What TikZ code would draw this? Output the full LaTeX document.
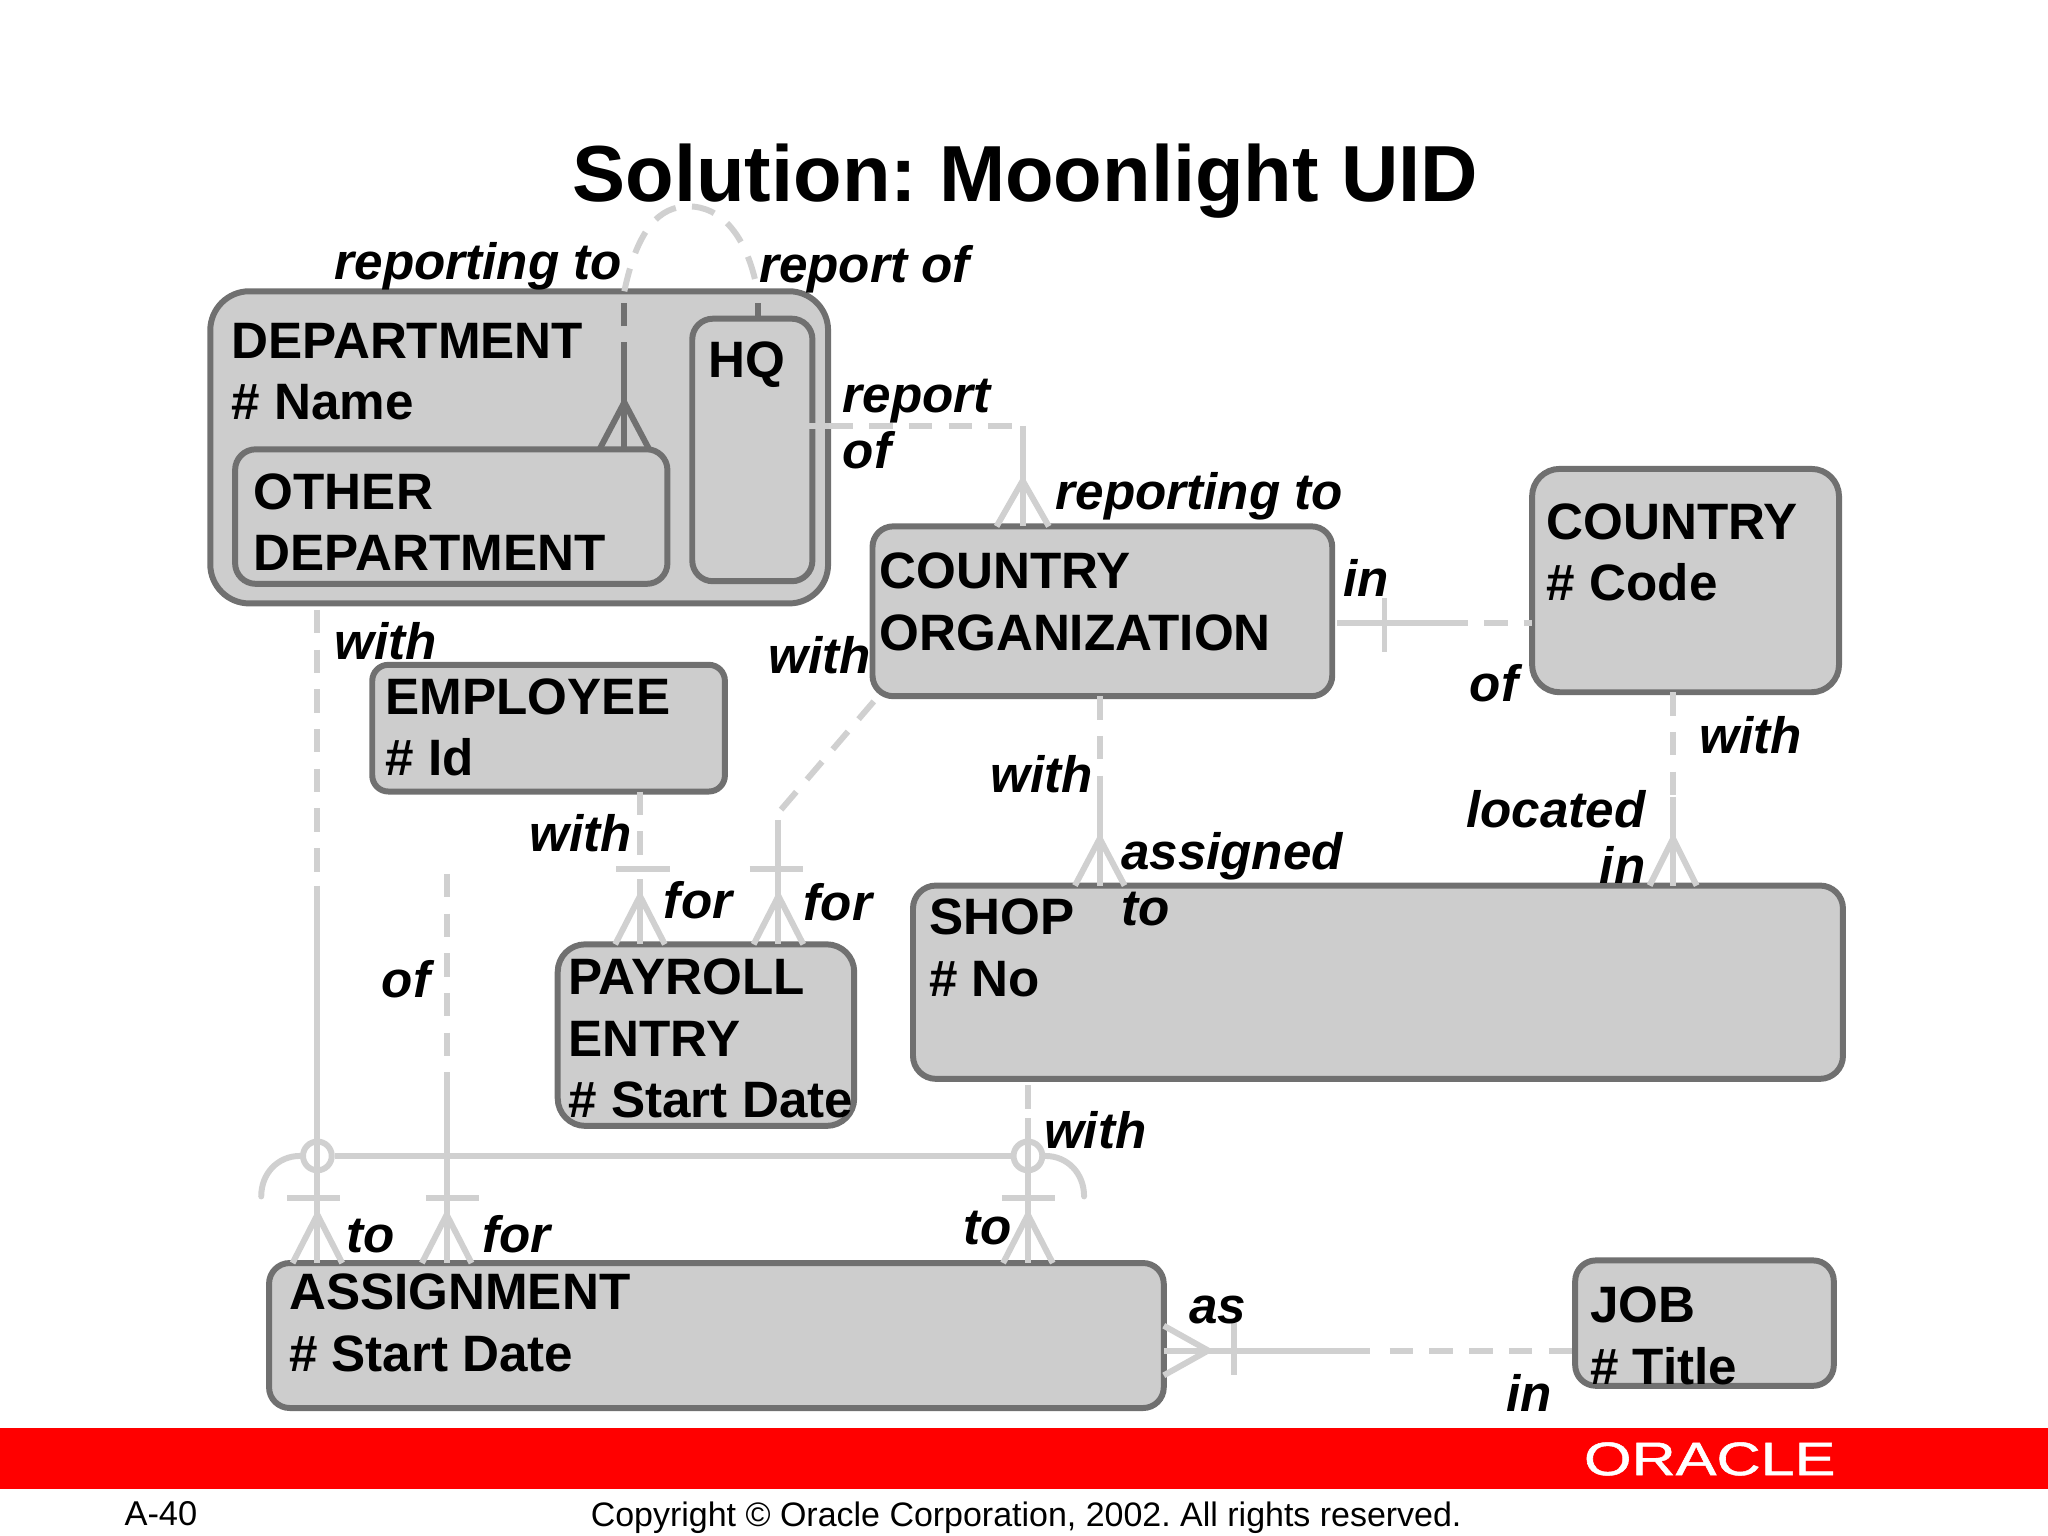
\documentclass[tikz,border=0pt]{standalone}
\usepackage{fontspec}
\setmainfont{Liberation Sans}
\usetikzlibrary{calc}
\definecolor{boxfill}{HTML}{CDCDCD}
\definecolor{boxline}{HTML}{707070}
\definecolor{relline}{HTML}{D0D0D0}
\frenchspacing
\tikzset{
  boxsize/.style 2 args={minimum width=#1*0.02cm,minimum height=#2*0.02cm},
  entbox/.style={draw=boxline,fill=boxfill,line width=2.6pt,anchor=north west,inner sep=0pt,outer sep=0pt,rounded corners=#1},
  entbox/.default=9pt,
  enttext/.style={anchor=north west,inner sep=0pt,align=left,font=\fontsize{22.3}{26.8}\selectfont\bfseries},
  rolelabel/.style={anchor=base west,inner sep=0pt,align=left,font=\fontsize{22.3}{24.4}\selectfont\bfseries\itshape},
  rel/.style={draw=relline,line width=2.6pt},
  optrel/.style={rel,dash pattern=on 10.2pt off 7.1pt},
  inrel/.style={draw=boxline,line width=2.6pt},
  ring/.style={circle,draw=relline,line width=2.6pt,minimum size=22*0.02cm,inner sep=0pt}
}
\begin{document}
\begin{tikzpicture}[x=0.02cm,y=-0.02cm]
\useasboundingbox (0,0) rectangle (1568,1176);
%BAND
\fill[red] (0,1093) rectangle (1568,1140);
\node[white,inner sep=0pt,font=\fontsize{20.5}{20.5}\selectfont\addfontfeatures{FakeBold=1},xscale=1.3] (logo) at (1309,1117) {ORACLE};
%TITLE
\node[anchor=base west,inner sep=0pt,font=\fontsize{34.65}{36}\selectfont\bfseries] (title) at (438,154) {Solution: Moonlight UID};
\node[anchor=base west,inner sep=0pt,font=\fontsize{15}{18}\selectfont] (page) at (95,1168) {A-40};
\node[anchor=base west,inner sep=0pt,font=\fontsize{14.8}{18}\selectfont] (copy) at (452,1169) {Copyright © Oracle Corporation, 2002. All rights reserved.};
%ENTITIES
\node[entbox=17pt,boxsize={473}{239}] (dept) at (161,223) {};
\node[entbox,boxsize={92}{201}] (hq) at (530,244) {};
\node[entbox,boxsize={331}{103}] (other) at (180,344) {};
\node[entbox,boxsize={352}{130}] (org) at (668,403) {};
\node[entbox=12pt,boxsize={235}{171}] (country) at (1173,359) {};
\node[entbox=7pt,boxsize={270}{97}] (emp) at (285,509) {};
\node[entbox=12pt,boxsize={227}{139}] (pay) at (427,723) {};
\node[entbox=10pt,boxsize={712}{148}] (shop) at (699,678) {};
\node[entbox,boxsize={685}{111}] (assign) at (206,967) {};
\node[entbox,boxsize={198}{96}] (job) at (1206,965) {};
%SELF RELATION ON DEPARTMENT
\coordinate (selfa) at (478,343);
\coordinate (selfb) at (478,280);
\coordinate (selfc) at (478,308);
\coordinate (selfd) at (580,240);
\draw[inrel] (selfa) -- (selfb);
\draw[inrel,dash pattern=on 10.2pt off 7.1pt] (selfb) -- (selfb |- dept.north);
\draw[inrel] (selfd) -- (selfd |- hq.north);
\draw[inrel] ($(selfc |- other.north)+(-19,0)$) -- (selfc) -- ($(selfc |- other.north)+(19,0)$);
\draw[inrel,dash pattern=on 7pt off 4pt] (selfd |- hq.north) -- (selfd |- dept.north);
\draw[optrel] (selfb |- dept.north) .. controls (488,175) and (505,158) .. (527,158) .. controls (552,158) and (572,180) .. (selfd |- dept.north);
%HQ TO COUNTRY ORGANIZATION
\coordinate (hqa) at (635,326);
\coordinate (hqb) at (783,326);
\coordinate (hqc) at (783,368);
\draw[draw=boxfill,line width=2.6pt] (618,326) -- (hqa);
\draw[optrel] (hqa) -- (hqb);
\draw[rel] (hqb) -- (hqb |- org.north);
\draw[rel] ($(hqc |- org.north)+(-20,0)$) -- (hqc) -- ($(hqc |- org.north)+(20,0)$);
%COUNTRY ORGANIZATION TO COUNTRY
\coordinate (orga) at (1024,477);
\coordinate (orgb) at (1106,477);
\coordinate (orgc) at (1060,458);
\coordinate (orgd) at (1060,499);
\draw[rel] (orga) -- (orgb);
\draw[optrel] (orgb) -- (country.west |- orgb);
\draw[rel] (orgc) -- (orgd);
%COUNTRY ORGANIZATION TO SHOP
\coordinate (shopa) at (842,610);
\coordinate (shopb) at (842,642);
\draw[optrel] (shopa |- org.south) -- (shopa);
\draw[rel] (shopa) -- (shopa |- shop.north);
\draw[rel] ($(shopb |- shop.north)+(-19,0)$) -- (shopb) -- ($(shopb |- shop.north)+(19,0)$);
%COUNTRY TO SHOP
\coordinate (cshopa) at (1281,610);
\coordinate (cshopb) at (1281,642);
\draw[optrel] (cshopa |- country.south) -- (cshopa);
\draw[rel] (cshopa) -- (cshopa |- shop.north);
\draw[rel] ($(cshopb |- shop.north)+(-18,0)$) -- (cshopb) -- ($(cshopb |- shop.north)+(18,0)$);
%EMPLOYEE TO PAYROLL ENTRY
\coordinate (empa) at (490,658);
\coordinate (empb) at (490,673);
\coordinate (empc) at (490,686);
\draw[optrel] (empa |- emp.south) -- (empa);
\draw[rel] (empb) -- (empb |- pay.north);
\draw[rel] (472,665) -- (513,665);
\draw[rel] ($(empc |- pay.north)+(-19,0)$) -- (empc) -- ($(empc |- pay.north)+(19,0)$);
%COUNTRY ORGANIZATION TO PAYROLL ENTRY
\coordinate (paya) at (669,537);
\coordinate (payb) at (597,621);
\coordinate (payc) at (596,628);
\coordinate (payd) at (596,686);
\draw[optrel] (paya) -- (payb);
\draw[rel] (payc) -- (payc |- pay.north);
\draw[rel] (574,665) -- (615,665);
\draw[rel] ($(payd |- pay.north)+(-19,0)$) -- (payd) -- ($(payd |- pay.north)+(19,0)$);
%ARC BETWEEN THE TWO ASSIGNMENT RELATIONS
\node[ring] (ringa) at (243,885) {};
\node[ring] (ringb) at (787,885) {};
\coordinate (arca) at (200,916);
\coordinate (arcb) at (830,916);
\draw[rel] (ringa) -- (ringb);
\draw[rel,line cap=round] (arca) .. controls (200,898) and (213,885) .. (ringa);
\draw[rel,line cap=round] (arcb) .. controls (830,898) and (817,885) .. (ringb);
%DEPARTMENT TO ASSIGNMENT
\coordinate (depa) at (243,678);
\coordinate (depb) at (243,930);
\draw[optrel] (depa |- dept.south) ++(0,5) -- (depa);
\draw[rel] (depa) -- (depa |- assign.north);
\draw[rel] (220,917) -- (260,917);
\draw[rel] ($(depb |- assign.north)+(-19,0)$) -- (depb) -- ($(depb |- assign.north)+(19,0)$);
%PAYROLL LINE TO ASSIGNMENT
\coordinate (ofa) at (342,669);
\coordinate (ofb) at (342,832);
\coordinate (ofc) at (342,930);
\draw[optrel] (ofa) -- (ofb);
\draw[rel] (ofb) -- (ofb |- assign.north);
\draw[rel] (326,917) -- (367,917);
\draw[rel] ($(ofc |- assign.north)+(-19,0)$) -- (ofc) -- ($(ofc |- assign.north)+(19,0)$);
%SHOP TO ASSIGNMENT
\coordinate (asa) at (787,856);
\coordinate (asb) at (787,930);
\draw[optrel] (asa |- shop.south) ++(0,5) -- (asa);
\draw[rel] (asa) -- (asa |- assign.north);
\draw[rel] (767,917) -- (808,917);
\draw[rel] ($(asb |- assign.north)+(-19,0)$) -- (asb) -- ($(asb |- assign.north)+(19,0)$);
%ASSIGNMENT TO JOB
\coordinate (joba) at (1049,1034);
\coordinate (jobb) at (925,1034);
\coordinate (jobc) at (945,1013);
\coordinate (jobd) at (945,1053);
\draw[rel] (joba -| assign.east) -- (joba);
\draw[optrel] (joba) ++(15,0) -- (joba -| job.west);
\draw[rel] (jobc) -- (jobd);
\draw[rel] ($(jobb -| assign.east)+(0,-19)$) -- (jobb) -- ($(jobb -| assign.east)+(0,19)$);
%ENTITY TEXT
\node[enttext] (depttext) at (177,247) {DEPARTMENT\\\# Name};
\node[enttext] (hqtext) at (542,261) {HQ};
\node[enttext] (othertext) at (194,362) {OTHER\\DEPARTMENT};
\node[enttext] (orgtext) at (673,423) {COUNTRY\\ORGANIZATION};
\node[enttext] (countrytext) at (1184,385) {COUNTRY\\\# Code};
\node[enttext] (emptext) at (295,519) {EMPLOYEE\\\# Id};
\node[enttext] (paytext) at (435,734) {PAYROLL\\ENTRY\\\# Start Date};
\node[enttext] (shoptext) at (711,688) {SHOP\\\# No};
\node[enttext] (assigntext) at (221,975) {ASSIGNMENT\\\# Start Date};
\node[enttext] (jobtext) at (1217,985) {JOB\\\# Title};
%ROLE LABELS
\node[rolelabel] (la) at (256,214) {reporting to};
\node[rolelabel] (lb) at (581,216) {report of};
\node[rolelabel,anchor=north west] (lc) at (645,290) {report\\of};
\node[rolelabel] (ld) at (808,390) {reporting to};
\node[rolelabel] (le) at (1028,457) {in};
\node[rolelabel] (lf) at (1125,537) {of};
\node[rolelabel] (lg) at (1301,577) {with};
\node[rolelabel] (lh) at (256,505) {with};
\node[rolelabel] (li) at (588,516) {with};
\node[rolelabel] (lj) at (405,652) {with};
\node[rolelabel] (lk) at (758,607) {with};
\node[rolelabel,anchor=north west] (ll) at (858,637) {assigned\\to};
\node[rolelabel,anchor=north east,align=right] (lm) at (1260,605) {located\\in};
\node[rolelabel] (ln) at (508,703) {for};
\node[rolelabel] (lo) at (615,705) {for};
\node[rolelabel] (lp) at (292,764) {of};
\node[rolelabel] (lq) at (799,879) {with};
\node[rolelabel] (lr) at (265,959) {to};
\node[rolelabel] (ls) at (369,959) {for};
\node[rolelabel] (lt) at (737,953) {to};
\node[rolelabel] (lu) at (910,1013) {as};
\node[rolelabel] (lv) at (1153,1081) {in};
\end{tikzpicture}
\end{document}
